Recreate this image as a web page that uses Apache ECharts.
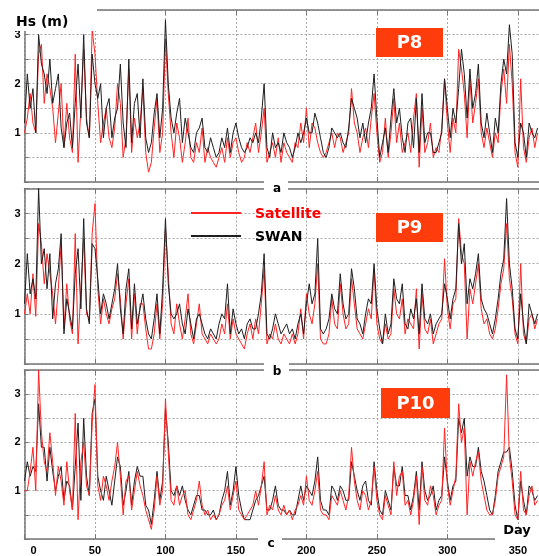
<!DOCTYPE html>
<html>
<head>
<meta charset="utf-8">
<script src="https://cdn.jsdelivr.net/npm/echarts@6/dist/echarts.min.js"></script>
<style>
  html, body { margin: 0; padding: 0; background: #fff; }
  #chart { width: 539px; height: 556px; }
</style>
</head>
<body>
<div id="chart"></div>
<script>
// values read every 2 days (day 0 .. 364)
var DAY_STEP = 2;
var yTickLabels = [1, 2, 3];
var panelNames = ['P8', 'P9', 'P10'];
var panelLetters = ['a', 'b', 'c'];
var seriesNames = ['Satellite', 'SWAN'];

// P8
var satA = [
  1.0,1.3,1.8,1.2,1.0,2.6,2.8,1.6,2.2,1.9,
  1.5,0.8,1.4,2.0,0.7,1.6,0.9,0.6,2.6,0.4,
  1.5,2.7,1.3,0.9,3.1,2.6,1.6,0.8,1.2,1.5,
  0.9,0.7,1.1,2.0,1.6,0.5,0.9,2.3,0.6,1.3,
  0.9,1.2,1.9,0.6,0.2,0.4,1.1,1.7,0.6,1.0,
  2.9,1.8,1.0,0.5,1.2,0.9,0.4,0.8,1.3,0.5,
  0.4,0.8,0.6,1.1,0.4,0.7,0.5,0.4,0.3,0.5,
  0.7,0.4,0.9,0.5,0.8,0.9,0.6,0.4,0.5,0.8,
  0.6,0.9,1.2,0.6,1.0,1.5,0.4,0.6,0.8,0.5,
  0.9,0.4,0.8,0.6,0.5,0.4,0.8,0.7,1.2,0.8,
  1.5,0.7,1.2,1.1,0.8,0.6,0.5,0.6,0.8,1.0,
  0.7,1.0,0.9,0.6,0.8,1.0,1.9,1.2,1.0,0.6,
  0.9,1.1,0.7,1.3,1.8,1.0,0.4,0.6,1.3,0.5,
  1.0,1.7,0.8,1.2,0.6,0.8,1.0,0.6,1.3,1.8,
  0.3,1.5,0.6,0.8,1.2,0.5,0.7,0.6,1.1,2.1,
  1.2,0.6,1.3,1.0,2.7,2.3,1.8,0.9,2.1,1.2,
  1.6,2.1,1.0,0.7,1.1,0.8,0.5,1.0,0.8,1.8,
  2.3,1.6,2.8,2.0,0.6,0.3,2.1,0.7,0.4,0.9,
  1.1,0.7,1.0
];
var swanA = [
  1.2,2.2,1.5,1.9,1.0,3.0,2.4,2.2,1.8,2.5,
  1.6,1.9,2.2,1.1,0.7,1.2,1.4,0.7,1.6,2.4,
  1.3,3.0,1.2,0.9,2.6,2.0,1.7,2.0,0.9,1.5,
  1.7,0.9,1.3,1.5,2.4,1.2,0.7,2.5,0.8,1.6,
  1.8,0.9,2.1,0.9,0.6,0.8,1.4,1.8,0.9,1.5,
  3.3,2.0,1.3,1.0,1.4,1.7,0.8,1.3,1.0,0.7,
  0.6,1.0,1.1,1.3,0.7,0.6,0.9,0.7,0.5,0.6,
  0.9,0.7,1.1,0.6,1.0,1.2,0.9,0.7,0.6,0.7,
  0.9,0.8,1.0,0.8,1.3,2.0,0.7,0.5,1.0,0.7,
  0.8,0.6,1.0,0.8,0.7,0.5,0.7,1.0,0.8,1.0,
  1.3,1.0,1.0,1.4,1.2,0.9,0.6,0.5,0.7,1.1,
  1.0,0.9,1.0,0.8,0.7,1.1,1.7,1.5,1.3,0.9,
  1.2,0.8,1.2,1.5,2.2,1.3,0.5,0.8,1.1,0.6,
  1.3,1.9,1.2,1.5,0.9,0.6,1.2,1.3,0.7,1.7,
  0.6,1.8,0.8,1.0,1.0,0.6,0.6,0.8,1.0,2.1,
  1.5,0.9,1.5,1.2,1.9,2.7,2.2,1.3,2.3,1.5,
  1.8,2.4,1.2,0.9,1.4,1.0,0.6,1.3,1.0,2.0,
  2.5,2.2,3.2,2.6,0.8,0.5,1.2,1.0,0.5,1.2,
  1.0,0.9,1.1
];

// P9
var satB = [
  1.0,1.4,1.0,1.8,0.95,2.8,2.4,1.6,2.2,1.8,
  1.4,0.8,1.5,2.4,0.7,1.6,0.9,0.6,2.6,0.4,
  1.5,2.5,1.0,0.9,2.6,3.2,1.5,0.8,1.3,1.0,
  0.8,1.1,1.3,1.8,1.3,0.5,1.2,1.7,0.5,1.4,
  0.6,1.2,1.2,0.7,0.3,0.3,0.6,1.2,0.5,1.2,
  2.7,1.8,0.8,0.6,1.2,0.8,0.5,0.9,1.4,0.6,
  0.4,0.8,1.2,0.6,0.5,0.4,0.6,0.5,0.4,0.5,
  0.8,0.6,1.2,0.5,0.9,0.6,0.5,0.4,0.3,0.6,
  0.8,0.5,0.9,0.6,1.2,1.9,0.4,0.6,0.5,0.8,
  0.5,0.4,0.6,0.5,0.4,0.6,0.4,0.6,1.1,0.5,
  1.4,1.0,0.8,1.2,2.0,0.5,0.4,0.4,0.6,1.3,
  0.8,0.7,1.6,1.0,0.7,0.8,1.7,1.2,0.7,0.6,
  0.5,0.8,1.1,0.9,1.9,0.8,0.5,0.4,0.8,0.5,
  0.6,1.5,1.0,0.9,1.3,0.6,0.9,0.8,0.7,1.5,
  0.3,1.4,0.7,0.6,0.9,0.4,0.6,0.8,0.9,2.1,
  1.1,0.7,1.2,1.3,2.9,2.2,2.0,0.5,1.5,1.2,
  1.6,2.0,1.1,0.8,0.9,0.6,0.5,0.7,1.1,1.6,
  1.9,2.8,1.7,1.3,0.6,0.4,2.0,0.6,0.4,0.9,
  1.0,0.7,0.9
];
var swanB = [
  1.2,2.2,1.4,1.7,1.3,3.5,2.0,2.3,1.5,2.2,
  0.9,1.6,1.9,2.6,0.6,1.3,1.0,0.7,1.8,2.3,
  1.1,2.9,1.1,0.8,2.4,2.3,1.7,1.0,1.4,1.2,
  0.9,1.2,1.5,2.0,1.1,0.6,1.5,1.9,0.7,1.6,
  0.8,1.1,1.4,0.9,0.6,0.5,0.9,1.4,0.6,1.5,
  2.9,1.6,1.0,0.9,1.0,1.2,0.8,0.6,1.1,0.8,
  0.5,0.9,1.0,0.8,0.6,0.5,0.7,0.6,0.5,0.8,
  1.0,0.9,1.6,0.6,1.1,0.8,0.6,0.7,0.5,0.8,
  0.9,0.7,0.7,1.0,1.4,2.2,0.6,0.5,0.7,1.0,
  0.8,0.6,0.7,0.8,0.6,0.7,0.5,0.8,1.0,0.6,
  1.2,1.6,1.2,1.4,2.5,0.7,0.6,0.7,0.9,1.4,
  1.1,1.0,1.8,1.2,0.9,1.0,1.9,1.5,0.9,0.8,
  0.6,1.0,1.3,1.2,2.0,1.1,0.7,0.4,1.0,0.6,
  0.8,1.7,1.3,1.2,1.6,0.8,0.7,1.1,0.9,1.3,
  0.6,1.6,0.9,0.8,1.0,0.6,0.8,0.9,1.0,1.6,
  1.3,0.9,1.3,1.5,2.8,2.0,2.4,1.2,1.7,1.5,
  1.8,2.2,1.3,1.1,1.0,0.8,0.6,0.9,1.3,1.8,
  2.1,3.3,2.0,1.5,0.7,0.5,1.4,0.8,0.4,1.2,
  1.0,0.8,1.0
];

// P10
var satC = [
  1.0,1.0,1.4,1.9,1.0,3.5,2.2,1.6,1.4,2.2,
  1.6,0.9,1.5,1.2,0.7,1.6,1.0,0.6,2.6,0.4,
  1.6,2.0,1.1,0.9,2.4,3.2,1.1,0.8,1.3,1.1,
  0.8,1.2,1.5,2.0,1.3,0.5,1.2,1.3,0.6,1.0,
  1.4,1.1,0.9,0.6,0.4,0.2,0.6,1.3,0.7,1.0,
  2.9,1.8,0.8,0.7,1.1,0.7,0.9,1.0,0.5,0.4,
  0.6,0.8,1.2,0.7,0.5,0.6,0.4,0.5,0.4,0.5,
  0.7,0.8,1.1,0.6,0.9,1.2,0.6,0.5,0.4,0.5,
  0.6,0.7,1.0,0.7,1.1,1.6,0.5,0.7,0.6,0.9,
  0.6,0.5,0.7,0.5,0.6,0.4,0.6,0.7,0.9,0.7,
  1.3,0.8,0.7,1.0,1.4,0.6,0.5,0.5,0.4,0.9,
  0.8,0.7,1.0,0.8,0.6,0.9,1.9,1.2,0.8,0.6,
  1.0,0.9,0.6,0.8,1.5,0.8,0.5,0.4,0.9,0.7,
  0.5,1.6,0.9,1.3,1.4,0.7,0.8,0.5,0.8,1.3,
  0.3,1.5,0.8,0.7,1.1,0.9,0.5,0.7,0.8,2.3,
  1.1,0.7,1.0,1.3,2.8,2.0,2.3,0.5,1.6,1.3,
  1.6,1.8,1.2,0.9,0.6,0.5,0.5,0.8,1.3,1.5,
  1.7,3.4,1.7,1.2,0.5,0.4,1.4,0.6,0.5,0.9,
  1.1,0.7,0.8
];
var swanC = [
  1.2,1.6,1.3,1.5,1.4,2.8,1.9,1.9,1.2,1.9,
  1.4,1.0,1.3,1.5,0.8,1.2,1.1,0.6,1.5,2.4,
  0.8,2.5,1.3,0.9,2.6,2.9,1.3,1.0,0.8,1.3,
  1.0,0.7,1.2,1.7,1.5,0.7,1.0,1.4,0.7,1.2,
  1.5,1.3,1.3,0.7,0.6,0.3,0.8,1.4,0.8,1.2,
  2.7,2.0,1.0,0.9,1.1,0.9,1.1,0.8,0.6,0.5,
  0.7,0.9,0.9,0.6,0.6,0.5,0.5,0.6,0.4,0.5,
  0.8,1.0,1.4,0.7,1.0,1.5,0.9,0.6,0.4,0.4,
  0.4,0.6,0.8,0.9,1.1,1.3,0.6,0.6,0.8,1.1,
  0.7,0.6,0.6,0.5,0.6,0.5,0.5,0.8,1.1,0.8,
  1.1,1.0,0.9,1.2,1.7,0.8,0.6,0.6,0.5,1.1,
  1.0,0.8,1.1,1.0,0.8,0.8,1.6,1.3,1.0,0.8,
  1.1,1.2,0.8,0.7,1.6,1.0,0.6,0.5,1.0,0.8,
  0.6,1.5,1.1,1.1,1.5,0.9,0.9,0.6,0.9,1.4,
  0.6,1.6,1.0,0.8,0.9,1.1,0.6,0.8,0.9,1.7,
  1.2,0.8,1.1,1.2,2.5,2.2,2.5,1.3,1.7,1.5,
  1.5,1.9,1.4,1.2,0.9,0.6,0.5,0.9,1.4,1.6,
  1.8,1.8,1.9,1.4,0.7,0.4,1.2,0.8,0.5,1.1,
  1.0,0.8,0.9
];

var satData = [satA, satB, satC];
var swanData = [swanA, swanB, swanC];

var RED = '#ff2424';
var BLACK = '#1e1e1e';
var FRAME = '#777';
var BOX = '#ff3c0c';

var grids = [
  { left: 24.5, top: 10, width: 520, height: 172 },
  { left: 24.5, top: 188.5, width: 520, height: 175.5 },
  { left: 24.5, top: 370, width: 520, height: 169 }
];

function toPoints(arr) {
  return arr.map(function (v, i) { return [i * DAY_STEP, v]; });
}

var gridLine = { show: true, lineStyle: { color: '#a8a8a8', type: [2, 2], width: 1 } };

var xAxes = [], yAxes = [], series = [];
grids.forEach(function (g, i) {
  xAxes.push({
    gridIndex: i, type: 'value', min: 0, max: 365, interval: 50,
    axisLine: { show: true, onZero: false, lineStyle: { color: FRAME, width: 1.5 } },
    axisTick: { show: true, inside: true, length: 5, lineStyle: { color: FRAME } },
    axisLabel: {
      show: i === 2, showMaxLabel: false, margin: 6,
      color: '#000', fontWeight: 'bold', fontSize: 11, fontFamily: 'Liberation Sans',
      formatter: function (v) { return v === 0 ? '{z|0}' : v; },
      rich: { z: { padding: [0, 0, 0, 18], color: '#000', fontWeight: 'bold', fontSize: 11, fontFamily: 'Liberation Sans' } }
    },
    splitLine: gridLine
  });
  xAxes.push({
    gridIndex: i, type: 'value', min: 0, max: 365, interval: 50, position: 'top',
    axisLine: { show: true, onZero: false, lineStyle: { color: FRAME, width: 1.5 } },
    axisTick: { show: true, inside: true, length: 5, lineStyle: { color: FRAME } },
    axisLabel: { show: false },
    splitLine: { show: false }
  });
  yAxes.push({
    gridIndex: i, type: 'value', min: 0, max: 3.5, interval: 0.5,
    axisLine: { show: true, lineStyle: { color: FRAME, width: 1.5 } },
    axisTick: { show: true, inside: true, length: 4, lineStyle: { color: FRAME } },
    axisLabel: {
      margin: 4, color: '#000', fontWeight: 'bold', fontSize: 11, fontFamily: 'Liberation Sans',
      formatter: function (v) { return yTickLabels.indexOf(v) >= 0 ? String(v) : ''; }
    },
    splitLine: gridLine
  });

  var red = {
    name: seriesNames[0], type: 'line', xAxisIndex: i * 2, yAxisIndex: i,
    data: toPoints(satData[i]), showSymbol: false,
    lineStyle: { color: RED, width: 1 }, z: i === 2 ? 4 : 2
  };
  var black = {
    name: seriesNames[1], type: 'line', xAxisIndex: i * 2, yAxisIndex: i,
    data: toPoints(swanData[i]), showSymbol: false,
    lineStyle: { color: BLACK, width: 1 }, z: 3
  };
  series.push(red, black);
});

var textFont = 'DejaVu Sans';
var graphics = [
  // blank corner behind the y title
  { type: 'rect', shape: { x: 0, y: 0, width: 97, height: 31 }, style: { fill: '#fff' }, z: 100 },
  { type: 'text', x: 16, y: 22, z: 101,
    style: { text: 'Hs (m)', font: 'bold 14px ' + textFont, fill: '#000', textVerticalAlign: 'middle' } },
  // gaps in frame lines for panel letters
  { type: 'rect', shape: { x: 264, y: 177, width: 24, height: 16 }, style: { fill: '#fff' }, z: 100 },
  { type: 'rect', shape: { x: 264, y: 359, width: 25, height: 17 }, style: { fill: '#fff' }, z: 100 },
  { type: 'rect', shape: { x: 258, y: 534, width: 24, height: 10 }, style: { fill: '#fff' }, z: 100 },
  { type: 'rect', shape: { x: 495, y: 534, width: 50, height: 10 }, style: { fill: '#fff' }, z: 100 },
  { type: 'text', x: 517, y: 531, z: 101,
    style: { text: 'Day', font: 'bold 13px ' + textFont, fill: '#000', align: 'center', verticalAlign: 'middle' } }
];

var letterPos = [[277, 189], [277, 372], [271, 544]];
panelLetters.forEach(function (l, i) {
  graphics.push({ type: 'text', x: letterPos[i][0], y: letterPos[i][1], z: 101,
    style: { text: l, font: 'bold 12px ' + textFont, fill: '#000', align: 'center', verticalAlign: 'middle' } });
});

var boxes = [[376, 28, 67, 29], [376, 213, 67, 29], [381, 388, 69, 30]];
panelNames.forEach(function (p, i) {
  var b = boxes[i];
  graphics.push({ type: 'rect', shape: { x: b[0], y: b[1], width: b[2], height: b[3] },
    style: { fill: BOX }, z: 100 });
  graphics.push({ type: 'text', x: b[0] + b[2] / 2, y: b[1] + b[3] / 2 + 1, z: 101,
    style: { text: p, font: 'bold 18px ' + textFont, fill: '#fff', align: 'center', verticalAlign: 'middle' } });
});

// legend (panel b)
var legendRows = [[seriesNames[0], RED, 213], [seriesNames[1], BLACK, 236]];
legendRows.forEach(function (r) {
  graphics.push({ type: 'line', shape: { x1: 191, y1: r[2], x2: 241, y2: r[2] },
    style: { stroke: r[1], lineWidth: 2 }, z: 101 });
  graphics.push({ type: 'text', x: 255, y: r[2] + 1, z: 101,
    style: { text: r[0], font: 'bold 14px ' + textFont, fill: r[0] === 'Satellite' ? '#ff0000' : '#000', verticalAlign: 'middle' } });
});

var chart = echarts.init(document.getElementById('chart'), null, { renderer: 'canvas' });
chart.setOption({
  animation: false,
  backgroundColor: '#fff',
  grid: grids,
  xAxis: xAxes,
  yAxis: yAxes,
  series: series,
  graphic: graphics
});
</script>
</body>
</html>
